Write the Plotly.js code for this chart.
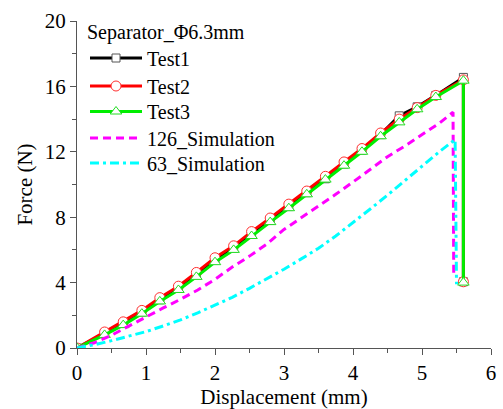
<!DOCTYPE html>
<html>
<head>
<meta charset="utf-8">
<script src="https://cdn.plot.ly/plotly-3.0.1.min.js"></script>
<style>html,body{margin:0;padding:0;background:#fff;}#chart{width:503px;height:409px;}</style>
</head>
<body>
<div id="chart"></div>
<script>
// Test data (Displacement mm, Force N)
var test1X = [0, 0.40, 0.67, 0.94, 1.20, 1.47, 1.73, 2.00, 2.27, 2.53, 2.80, 3.07, 3.33, 3.60, 3.87, 4.13, 4.40, 4.67, 4.93, 5.20, 5.60, 5.60];
var test1Y = [0, 0.90, 1.50, 2.20, 2.95, 3.65, 4.50, 5.40, 6.10, 6.95, 7.80, 8.65, 9.50, 10.35, 11.25, 12.10, 13.05, 14.20, 14.75, 15.45, 16.55, 4.05];
var test2X = [0, 0.40, 0.67, 0.94, 1.20, 1.47, 1.73, 2.00, 2.27, 2.53, 2.80, 3.07, 3.33, 3.60, 3.87, 4.13, 4.40, 4.67, 4.93, 5.20, 5.60, 5.60];
var test2Y = [0, 0.98, 1.60, 2.30, 3.08, 3.78, 4.62, 5.52, 6.25, 7.12, 7.95, 8.80, 9.60, 10.50, 11.38, 12.20, 13.15, 14.00, 14.70, 15.45, 16.40, 4.05];
var test3X = [0, 0.40, 0.67, 0.94, 1.20, 1.47, 1.73, 2.00, 2.27, 2.53, 2.80, 3.07, 3.33, 3.60, 3.87, 4.13, 4.40, 4.67, 4.93, 5.20, 5.60, 5.60];
var test3Y = [0, 0.80, 1.40, 2.10, 2.85, 3.55, 4.35, 5.25, 6.00, 6.85, 7.70, 8.55, 9.40, 10.30, 11.15, 12.00, 12.95, 13.80, 14.60, 15.35, 16.35, 4.00];
// Simulations
var sim126X = [0, 0.25, 0.5, 0.75, 1.0, 1.25, 1.5, 1.75, 2.0, 2.25, 2.5, 2.75, 3.0, 3.25, 3.5, 3.75, 4.0, 4.25, 4.5, 4.75, 5.0, 5.25, 5.45, 5.46];
var sim126Y = [0, 0.32, 0.78, 1.35, 1.92, 2.45, 2.98, 3.55, 4.20, 4.95, 5.62, 6.35, 7.25, 7.95, 8.70, 9.40, 10.15, 10.90, 11.70, 12.35, 13.05, 13.75, 14.42, 4.38];
var sim63X = [0, 0.25, 0.5, 0.75, 1.0, 1.25, 1.5, 1.75, 2.0, 2.25, 2.5, 2.75, 3.0, 3.25, 3.5, 3.75, 4.0, 4.25, 4.5, 4.75, 5.0, 5.25, 5.48, 5.50];
var sim63Y = [0, 0.20, 0.45, 0.72, 1.00, 1.35, 1.72, 2.15, 2.60, 3.10, 3.65, 4.22, 4.82, 5.45, 6.10, 6.85, 7.65, 8.50, 9.35, 10.25, 11.15, 12.00, 12.75, 3.90];

var names = ['Test1', 'Test2', 'Test3', '126_Simulation', '63_Simulation'];
var legendTitle = 'Separator_\u03a66.3mm';

var serif = 'Liberation Serif';

var traces = [
  {x: test1X, y: test1Y, name: names[0], mode: 'lines+markers', legend: 'legend',
   line: {color: '#000000', width: 3},
   marker: {symbol: 'square', size: 8, color: '#ffffff', line: {color: '#555555', width: 1}}},
  {x: test2X, y: test2Y, name: names[1], mode: 'lines+markers', legend: 'legend2',
   line: {color: '#ff0000', width: 3},
   marker: {symbol: 'circle', size: 10, color: '#ffffff', line: {color: '#ff3030', width: 1}}},
  {x: test3X, y: test3Y, name: names[2], mode: 'lines+markers', legend: 'legend3',
   line: {color: '#00ee00', width: 3},
   marker: {symbol: 'triangle-up', size: 10, color: '#ffffff', line: {color: '#22dd22', width: 1}}},
  {x: sim126X, y: sim126Y, name: names[3], mode: 'lines', legend: 'legend4',
   line: {color: '#ff00ff', width: 3, dash: '8px,5px'}},
  {x: sim63X, y: sim63Y, name: names[4], mode: 'lines', legend: 'legend5',
   line: {color: '#00ffff', width: 3, dash: '9px,4px,3px,4px'}}
];

// legend item centres in paper units (plot area 327px tall, bottom at 348px)
function py(p) { return (348 - p) / 327; }
var legX = 8 / 414;
function itemLegend(centre) {
  return {x: legX, y: py(centre), xanchor: 'left', yanchor: 'middle',
          bgcolor: 'rgba(0,0,0,0)', borderwidth: 0, itemwidth: 52,
          font: {family: serif, size: 20, color: '#000'}};
}

var layout = {
  width: 503, height: 409,
  margin: {l: 77, r: 12, t: 21, b: 61},
  paper_bgcolor: '#ffffff', plot_bgcolor: '#ffffff',
  font: {family: serif, size: 20, color: '#000'},
  showlegend: true,
  legend: {
    x: legX, y: py(12.5), xanchor: 'left', yanchor: 'top',
    bgcolor: 'rgba(0,0,0,0)', borderwidth: 0, itemwidth: 52,
    font: {family: serif, size: 20, color: '#000'},
    title: {text: legendTitle, font: {family: serif, size: 20, color: '#000'}}
  },
  legend2: itemLegend(86),
  legend3: itemLegend(111.5),
  legend4: itemLegend(138),
  legend5: itemLegend(163),
  xaxis: {
    range: [0, 6], dtick: 1, tick0: 0,
    showgrid: false, zeroline: false,
    showline: true, linecolor: '#555', linewidth: 1,
    ticks: 'outside', ticklen: 6, tickwidth: 1, tickcolor: '#555',
    minor: {dtick: 0.5, ticks: 'outside', ticklen: 4, tickwidth: 1, tickcolor: '#555', showgrid: false},
    tickfont: {family: serif, size: 21, color: '#000'},
    title: {text: 'Displacement (mm)', font: {family: serif, size: 21, color: '#000'}, standoff: 8}
  },
  yaxis: {
    range: [0, 20], dtick: 4, tick0: 0,
    showgrid: false, zeroline: false,
    showline: true, linecolor: '#555', linewidth: 1,
    ticks: 'outside', ticklen: 6, tickwidth: 1, tickcolor: '#555',
    minor: {dtick: 2, ticks: 'outside', ticklen: 4, tickwidth: 1, tickcolor: '#555', showgrid: false},
    tickfont: {family: serif, size: 21, color: '#000'},
    title: {text: 'Force (N)', font: {family: serif, size: 21, color: '#000'}, standoff: 6}
  }
};

Plotly.newPlot('chart', traces, layout, {displayModeBar: false, staticPlot: true});
</script>
</body>
</html>
